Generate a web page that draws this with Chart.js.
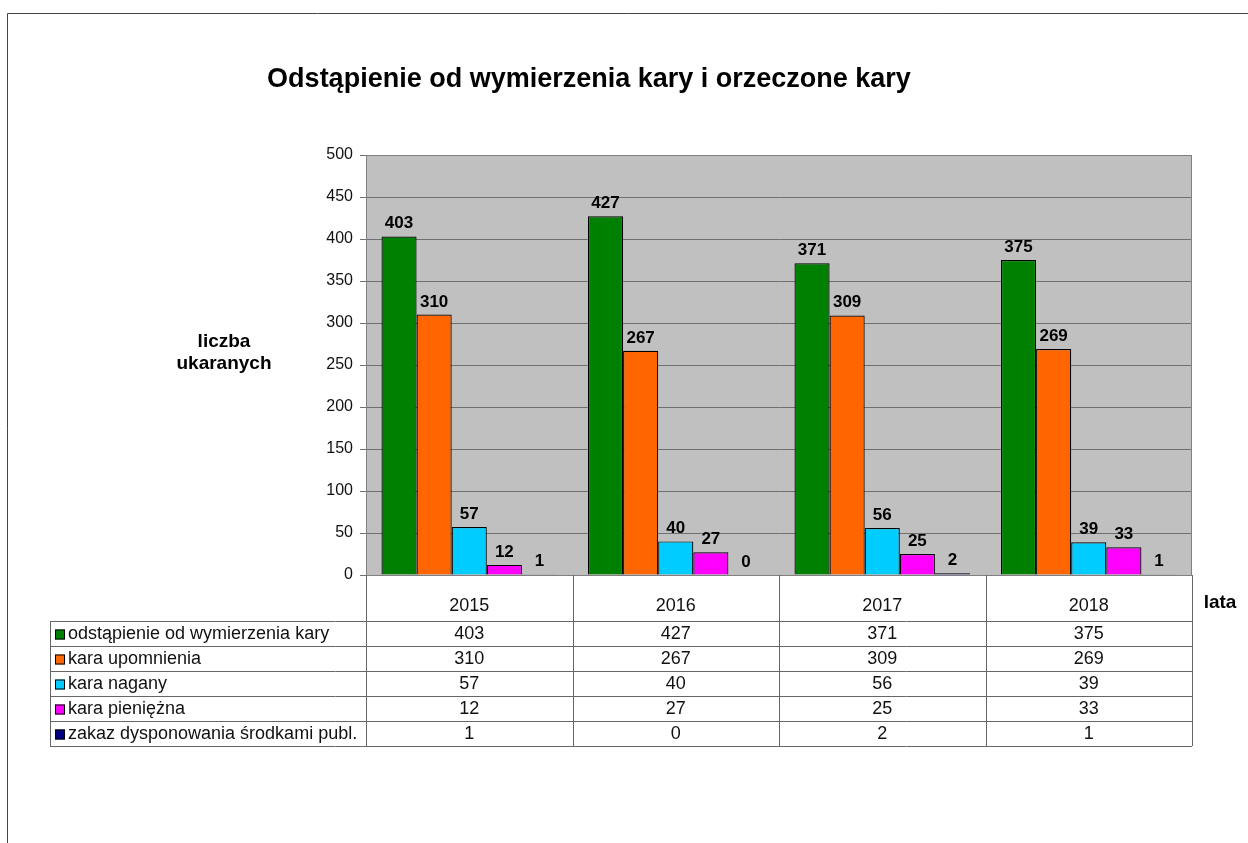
<!DOCTYPE html>
<html>
<head>
<meta charset="utf-8">
<script src="https://cdn.jsdelivr.net/npm/chart.js@4"></script>
<style>
  html, body { margin: 0; padding: 0; background: #fff; }
  #wrap { position: relative; width: 1248px; height: 843px; }
</style>
</head>
<body>
<div id="wrap"><canvas id="kary-chart"></canvas></div>
<script>
const years = ["2015", "2016", "2017", "2018"];
const seriesNames = [
  "odstąpienie od wymierzenia kary",
  "kara upomnienia",
  "kara nagany",
  "kara pieniężna",
  "zakaz dysponowania środkami publ."
];
const odstapienie = [403, 427, 371, 375];
const upomnienie = [310, 267, 309, 269];
const nagana = [57, 40, 56, 39];
const pieniezna = [12, 27, 25, 33];
const zakaz = [1, 0, 2, 1];
const colors = ["#008000", "#FF6600", "#00CCFF", "#FF00FF", "#000080"];
const yTicks = [0, 50, 100, 150, 200, 250, 300, 350, 400, 450, 500];

const FONT = "'Liberation Sans', Arial, sans-serif";
const allSeries = [odstapienie, upomnienie, nagana, pieniezna, zakaz];

// ramka, tytuł i opisy osi
const decorPlugin = {
  id: "decor",
  beforeDraw(chart) {
    const c = chart.ctx;
    c.save();
    c.fillStyle = "#fff";
    c.fillRect(0, 0, chart.width, chart.height);
    c.strokeStyle = "#444";
    c.lineWidth = 1;
    c.beginPath();
    c.moveTo(7.5, chart.height);
    c.lineTo(7.5, 13.5);
    c.lineTo(chart.width, 13.5);
    c.stroke();
    const a = chart.chartArea;
    c.fillStyle = "#C0C0C0";
    c.fillRect(a.left, a.top, a.right - a.left, a.bottom - a.top);
    c.restore();
  },
  afterDraw(chart) {
    const c = chart.ctx;
    const a = chart.chartArea;
    c.save();
    c.fillStyle = "#000";
    c.textAlign = "center";
    c.textBaseline = "middle";
    c.font = "bold 27px " + FONT;
    c.fillText("Odstąpienie od wymierzenia kary i orzeczone kary", 589, 80);
    c.font = "bold 19px " + FONT;
    c.fillText("liczba", 224, 342);
    c.fillText("ukaranych", 224, 364);
    c.fillText("lata", 1220, 603);
    c.strokeStyle = "#808080";
    c.strokeRect(a.left + 0.5, a.top + 0.5, a.right - a.left - 1, a.bottom - a.top);

    // tabela danych
    const xs = chart.scales.x;
    const colW = (xs.right - xs.left) / years.length;
    const top = a.bottom;
    const headH = 46, rowH = 25, leftX = 50;
    const bottom = top + headH + rowH * seriesNames.length;
    c.strokeStyle = "#666";
    c.lineWidth = 1;
    c.beginPath();
    for (let i = 0; i <= years.length; i++) {
      const x = Math.round(xs.left + i * colW) + 0.5;
      c.moveTo(x, top);
      c.lineTo(x, bottom);
    }
    c.moveTo(leftX + 0.5, top + headH);
    c.lineTo(leftX + 0.5, bottom);
    for (let r = 0; r <= seriesNames.length; r++) {
      const y = Math.round(top + headH + r * rowH) + 0.5;
      c.moveTo(leftX, y);
      c.lineTo(xs.right, y);
    }
    c.stroke();

    c.font = "18px " + FONT;
    c.fillStyle = "#111";
    c.textAlign = "center";
    years.forEach((yr, i) => {
      c.fillText(yr, xs.left + (i + 0.5) * colW, top + 31);
    });
    seriesNames.forEach((name, r) => {
      const cy = top + headH + r * rowH + rowH / 2 + 1;
      c.fillStyle = colors[r];
      c.fillRect(55, cy - 5, 10, 10);
      c.strokeStyle = "#000";
      c.strokeRect(55.5, cy - 4.5, 9, 9);
      c.fillStyle = "#111";
      c.textAlign = "left";
      c.fillText(name, 68, cy);
      c.textAlign = "center";
      allSeries[r].forEach((v, i) => {
        c.fillText(String(v), xs.left + (i + 0.5) * colW, cy);
      });
    });
    c.restore();
  }
};

const labelsPlugin = {
  id: "barLabels",
  afterDatasetsDraw(chart) {
    const c = chart.ctx;
    c.save();
    c.font = "bold 17px " + FONT;
    c.fillStyle = "#000";
    c.textAlign = "center";
    c.textBaseline = "alphabetic";
    chart.data.datasets.forEach((ds, di) => {
      chart.getDatasetMeta(di).data.forEach((bar, i) => {
        c.fillText(String(ds.data[i]), bar.x, bar.y - 8);
      });
    });
    c.restore();
  }
};

new Chart(document.getElementById("kary-chart"), {
  type: "bar",
  data: {
    labels: years,
    datasets: seriesNames.map((name, i) => ({
      label: name,
      data: allSeries[i],
      backgroundColor: colors[i],
      borderColor: "#000",
      borderWidth: 1.2,
      categoryPercentage: 0.85,
      barPercentage: 1
    }))
  },
  options: {
    responsive: true,
    maintainAspectRatio: false,
    animation: false,
    layout: { padding: { top: 155, right: 56, bottom: 268, left: 0 } },
    plugins: {
      legend: { display: false },
      title: { display: false },
      tooltip: { enabled: false }
    },
    scales: {
      x: { display: false },
      y: {
        min: 0,
        max: 500,
        afterBuildTicks(scale) {
          scale.ticks = yTicks.map(v => ({ value: v }));
        },
        afterFit(scale) { scale.width = 366; },
        ticks: { font: { family: FONT, size: 16 }, color: "#111", padding: 7 },
        grid: { color: "#707070", tickLength: 6, tickColor: "#707070" },
        border: { color: "#808080" }
      }
    }
  },
  plugins: [decorPlugin, labelsPlugin]
});
</script>
</body>
</html>
